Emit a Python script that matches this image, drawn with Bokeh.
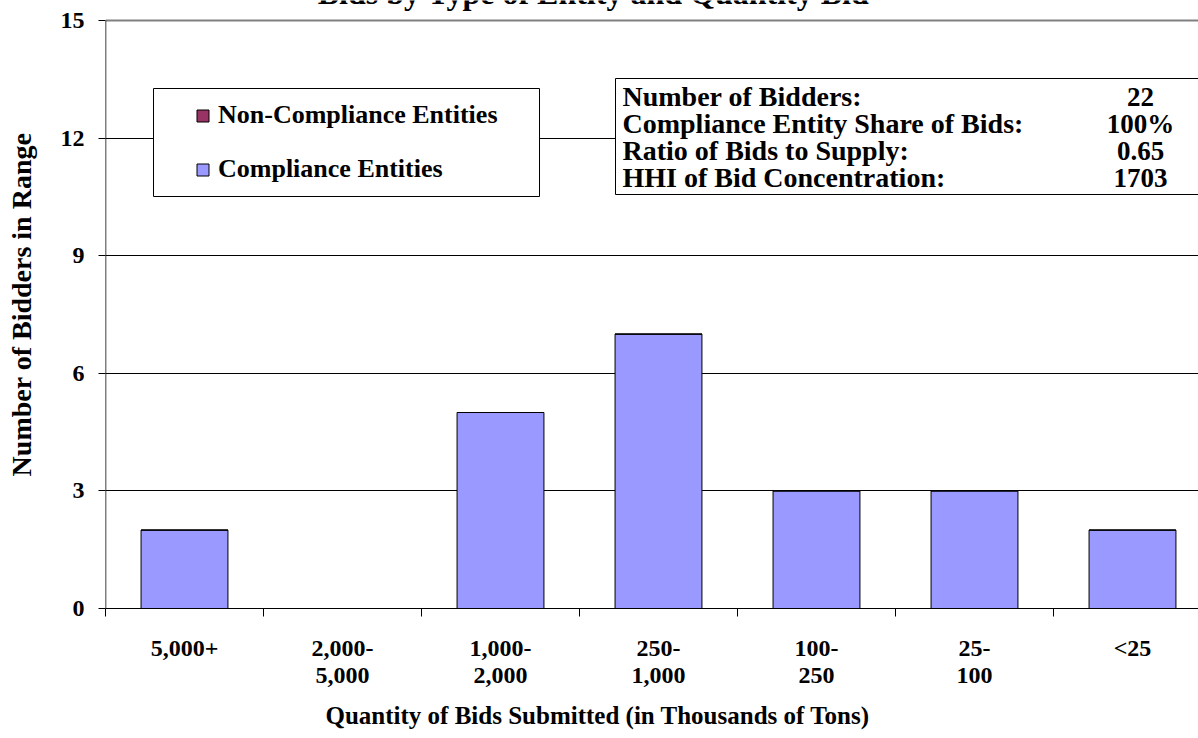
import math
from bokeh.plotting import figure
from bokeh.models import (Range1d, FixedTicker, Label, BoxAnnotation, Span, Legend,
                          LegendItem, ColumnDataSource, Title)
from bokeh.embed import file_html
from bokeh.resources import INLINE

# ---------------- data ----------------
categories = ["5,000+", "2,000-\n5,000", "1,000-\n2,000", "250-\n1,000", "100-\n250", "25-\n100", "<25"]
compliance = [2, 0, 5, 7, 3, 3, 2]
non_compliance = [0, 0, 0, 0, 0, 0, 0]
y_ticks = [0, 3, 6, 9, 12, 15]
stat_labels = ["Number of Bidders:", "Compliance Entity Share of Bids:",
               "Ratio of Bids to Supply:", "HHI of Bid Concentration:"]
stat_values = ["22", "100%", "0.65", "1703"]
title_text = "Bids by Type of Entity and Quantity Bid"
x_title = "Quantity of Bids Submitted (in Thousands of Tons)"
y_title = "Number of Bidders in Range"
series_names = ["Compliance Entities", "Non-Compliance Entities"]
series_colors = ["#9999FF", "#993366"]

# ---------------- layout ----------------
FONT = "Liberation Serif"
W, H = 1198, 738
L, B = 105, 130
TOP_GAP = 20            # pixels between the top of the picture and the value 15
FW = W - L
FH = H - B              # frame reaches the top edge of the picture
CAT_PX = 158
YMAX = 15
PX_PER_Y = (FH - TOP_GAP) / YMAX

p = figure(width=W, height=H,
           x_range=Range1d(0, FW / CAT_PX),
           y_range=Range1d(0, YMAX + TOP_GAP / PX_PER_Y),
           output_backend="svg", toolbar_location=None,
           min_border_left=L, min_border_right=0, min_border_top=0, min_border_bottom=B)
p.outline_line_color = None
p.background_fill_color = "white"
p.border_fill_color = "white"

xs = [i + 0.5 for i in range(len(categories))]
source = ColumnDataSource(dict(x=xs, comp=compliance, noncomp=non_compliance))
rends = p.vbar_stack(["comp", "noncomp"], x="x", width=0.55, source=source,
                     fill_color=series_colors, line_color="black", line_width=1)

# grid
p.xgrid.grid_line_color = None
p.ygrid.ticker = FixedTicker(ticks=[t for t in y_ticks if 0 < t < YMAX])
p.ygrid.grid_line_color = "black"
p.ygrid.grid_line_width = 1
p.add_layout(Span(location=YMAX, dimension="width", line_color="#808080", line_width=2))

# y axis (its line drawn only from 0 to 15)
ya = p.yaxis[0]
ya.ticker = FixedTicker(ticks=y_ticks)
ya.major_tick_out = 7
ya.major_tick_in = 0
ya.minor_tick_line_color = None
ya.axis_line_color = None
ya.major_tick_line_color = "black"
ya.major_label_standoff = 14
ya.major_label_text_font = FONT
ya.major_label_text_font_style = "bold"
ya.major_label_text_font_size = "24px"
ya.major_label_text_color = "black"
ya.axis_label = y_title
ya.axis_label_standoff = 21
ya.axis_label_text_font = FONT
ya.axis_label_text_font_style = "bold"
ya.axis_label_text_font_size = "28px"
ya.axis_label_text_color = "black"
p.add_layout(BoxAnnotation(left=0, right=0, bottom=0, top=YMAX, fill_alpha=0,
                           line_color="black", line_width=1.5, line_alpha=1))

# x axis
xa = p.xaxis[0]
xa.ticker = FixedTicker(ticks=xs, minor_ticks=list(range(len(categories) + 1)))
xa.major_label_overrides = {x: c for x, c in zip(xs, categories)}
xa.major_tick_line_color = None
xa.major_tick_out = 0
xa.major_tick_in = 0
xa.minor_tick_out = 8
xa.minor_tick_in = 0
xa.minor_tick_line_color = "black"
xa.axis_line_color = "black"
xa.major_label_standoff = 18
xa.major_label_text_font = FONT
xa.major_label_text_font_style = "bold"
xa.major_label_text_font_size = "24px"
xa.major_label_text_color = "black"
xa.major_label_text_line_height = 1.05

# x-axis title (placed under the tick labels)
p.add_layout(Title(text=x_title, align="left", offset=220, standoff=18,
                   text_font=FONT, text_font_style="bold", text_font_size="25px",
                   text_color="black"), "below")

# chart title (mostly above the visible area, as in the reference)
p.add_layout(Label(x=488, y=FH + 8, x_units="screen", y_units="screen", text=title_text,
                   text_align="center", text_baseline="alphabetic", text_font=FONT,
                   text_font_style="bold", text_font_size="32px", text_color="black"))

# legend box + legend
p.add_layout(BoxAnnotation(left=48, right=434, bottom=412, top=520,
                           left_units="screen", right_units="screen",
                           top_units="screen", bottom_units="screen",
                           fill_color="white", fill_alpha=1, line_color="black",
                           line_width=1, line_alpha=1))
legend = Legend(items=[LegendItem(label=series_names[1], renderers=[rends[1]]),
                       LegendItem(label=series_names[0], renderers=[rends[0]])],
                location=(90, 424), padding=0, margin=0, spacing=24,
                glyph_width=15, glyph_height=15, label_standoff=8, label_height=15,
                label_text_font=FONT, label_text_font_style="bold",
                label_text_font_size="26px", label_text_color="black",
                border_line_color=None, background_fill_alpha=0)
p.add_layout(legend)

# statistics box
p.add_layout(BoxAnnotation(left=510, right=1110, bottom=414, top=530,
                           left_units="screen", right_units="screen",
                           top_units="screen", bottom_units="screen",
                           fill_color="white", fill_alpha=1, line_color="black",
                           line_width=1, line_alpha=1))
for i, (lab, val) in enumerate(zip(stat_labels, stat_values)):
    yy = 512 - 27 * i
    p.add_layout(Label(x=517, y=yy, x_units="screen", y_units="screen", text=lab,
                       text_align="left", text_baseline="middle", text_font=FONT,
                       text_font_style="bold", text_font_size="28px", text_color="black"))
    p.add_layout(Label(x=1035, y=yy, x_units="screen", y_units="screen", text=val,
                       text_align="center", text_baseline="middle", text_font=FONT,
                       text_font_style="bold", text_font_size="27px", text_color="black"))

open("out.html", "w").write(file_html(p, INLINE))
